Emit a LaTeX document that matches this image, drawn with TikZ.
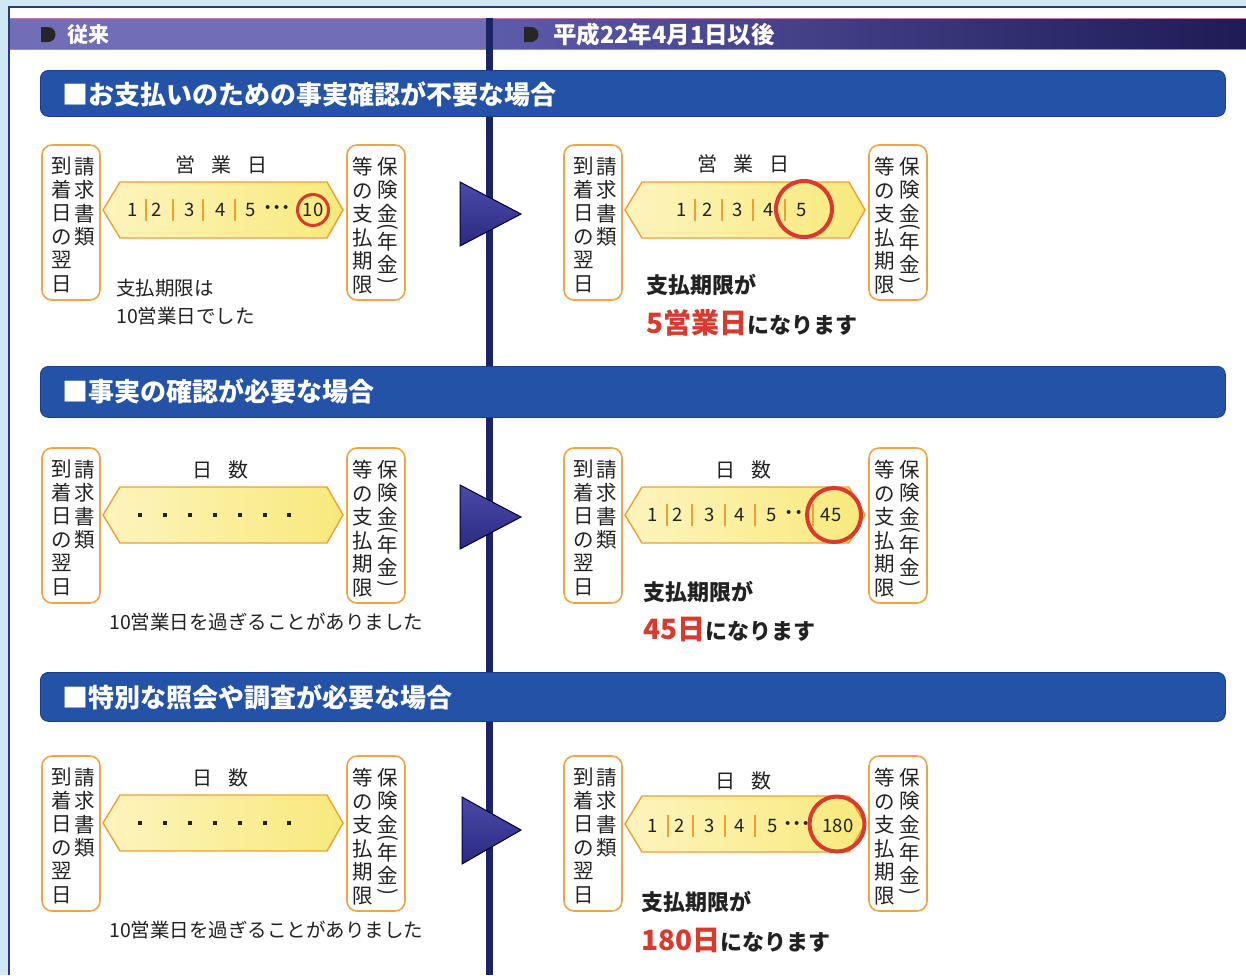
\documentclass[tikz,border=0pt]{standalone}
\usepackage{fontspec}
\setmainfont{Noto Sans CJK JP}
\usetikzlibrary{calc}
\definecolor{bgblue}{HTML}{D0E8F5}
\definecolor{framecol}{HTML}{2B3A80}
\definecolor{hdrL}{HTML}{706EB6}
\definecolor{hdrRa}{HTML}{5D5BAB}
\definecolor{hdrRb}{HTML}{1E1B56}
\definecolor{pinkline}{HTML}{C87898}
\definecolor{divcol}{HTML}{1C2466}
\definecolor{barcol}{HTML}{2452A6}
\definecolor{barline}{HTML}{1B3E8A}
\definecolor{boxor}{HTML}{F2A445}
\definecolor{hexor}{HTML}{F0A030}
\definecolor{hexa}{HTML}{FDF4BE}
\definecolor{hexb}{HTML}{F8E97C}
\definecolor{redc}{HTML}{D93A2E}
\definecolor{txt}{HTML}{222222}
\definecolor{tria}{HTML}{4B4AA8}
\definecolor{trib}{HTML}{2A2A82}
\tikzset{
  obox/.style={draw=boxor, line width=1.6pt, rounded corners=10pt, minimum width=58pt, minimum height=155pt, fill=white},
  vt/.style={align=center, text=txt, inner sep=0pt, font=\fontsize{20.5pt}{23.5pt}\selectfont},
  hexs/.style={draw=hexor, line width=1.4pt, left color=hexa, right color=hexb},
  num/.style={text=txt, inner sep=0pt, font=\fontsize{18.5pt}{20pt}\selectfont},
  dots/.style={text=txt, inner sep=0pt, font=\fontsize{18.5pt}{20pt}\selectfont\bfseries},
  sepl/.style={draw=hexor, line width=1.2pt},
  ttl/.style={text=txt, inner sep=0pt, font=\fontsize{20pt}{22pt}\selectfont},
  bartext/.style={text=white, inner sep=0pt, anchor=west, font=\fontsize{26pt}{28pt}\selectfont\bfseries},
  bar/.style={fill=barcol, draw=barline, line width=0.8pt, rounded corners=8pt, anchor=north west, minimum width=1185pt, inner sep=0pt},
  hdrtext/.style={text=white, inner sep=0pt, anchor=west, font=\fontsize{21pt}{22pt}\selectfont\bfseries},
  rcirc/.style={circle, draw=redc, line width=4pt, inner sep=0pt},
  tri/.style={draw=black!80!blue, line width=1pt, top color=tria, bottom color=trib},
  note/.style={text=txt, inner sep=0pt, anchor=west, font=\fontsize{19.5pt}{22pt}\selectfont},
  bnote/.style={text=txt, inner sep=0pt, anchor=west, font=\fontsize{22pt}{24pt}\selectfont\bfseries},
}
\newcommand\vlp{\raisebox{2pt}{\rotatebox{-90}{(}}}
\newcommand\vrp{\raisebox{2pt}{\rotatebox{-90}{)}}}
% boxes pair: #1 name prefix, #2 x offset, #3 y offset
\newcommand\mkboxes[3]{%
  \node[obox] (#1L) at ({71+#2},{222.5+#3}) {};
  \node[vt, anchor=north] (#1La) at ({85+#2},{157+#3}) {請\\求\\書\\類};
  \node[vt, anchor=north] (#1Lb) at ({62+#2},{157+#3}) {到\\着\\日\\の\\翌\\日};
  \node[obox] (#1R) at ({376+#2},{222.5+#3}) {};
  \node[vt, anchor=north] (#1Ra) at ({388+#2},{157+#3}) {保\\険\\金\\[-19pt]\vlp\\年\\金\\[-17pt]\vrp};
  \node[vt, anchor=north] (#1Rb) at ({363+#2},{157+#3}) {等\\の\\支\\払\\期\\限};
}
\newcommand\mkhex[3]{% #1 name, #2 x offset, #3 y center
  \shadedraw[hexs] ({103+#2},#3) -- ({120+#2},{#3-28}) -- ({327+#2},{#3-28}) -- ({343+#2},#3) -- ({327+#2},{#3+28}) -- ({120+#2},{#3+28}) -- cycle;
  \coordinate (#1) at ({223+#2},#3);
}
\begin{document}
\begin{tikzpicture}[x=1pt,y=-1pt]
\useasboundingbox (0,0) rectangle (1246,975);
\fill[bgblue] (0,0) rectangle (1246,975);
\fill[white] (9,7) rectangle (1246,975);
\draw[framecol, line width=2pt] (9,975) -- (9,7) -- (1246,7);
% header band
\fill[hdrL] (10,18) rectangle (488,49);
\shade[left color=hdrRa, right color=hdrRb] (488,18) rectangle (1246,49);
\draw[pinkline, line width=0.7pt] (10,18) -- (1246,18);
\draw[pinkline, line width=0.7pt] (10,49) -- (1246,49);
% divider
\fill[divcol] (486,18) rectangle (493,975);
% bullets
\fill[black!85] (41,27) -- (48,27) arc(-90:90:7.5) -- (41,42) -- cycle;
\fill[black!85] (524,27) -- (531,27) arc(-90:90:7.5) -- (524,42) -- cycle;
\node[hdrtext] (hL) at (67,35) {従来};
\node[hdrtext, font=\fontsize{23.5pt}{24pt}\selectfont\bfseries] (hR) at (553,35) {平成22年4月1日以後};
% section bars
\node[bar, minimum height=46pt] (bar1) at (40,70) {};
\node[bartext] (bar1t) at (62,94) {■お支払いのための事実確認が不要な場合};
\node[bar, minimum height=51pt] (bar2) at (40,366) {};
\node[bartext] (bar2t) at (62,391) {■事実の確認が必要な場合};
\node[bar, minimum height=49pt] (bar3) at (40,672) {};
\node[bartext] (bar3t) at (62,697) {■特別な照会や調査が必要な場合};

% ===== Row 1 =====
\mkboxes{a}{0}{0}
\mkboxes{b}{522}{0}
\node[ttl] (at) at (221,165) {営\hspace{16pt}業\hspace{16pt}日};
\node[ttl] (bt) at (743,164) {営\hspace{16pt}業\hspace{16pt}日};
\mkhex{ah}{0}{210}
\mkhex{bh}{522}{210}
% left numbers
\node[num] (a1) at (133,210) {1};
\node[num] (a2) at (157,210) {2};
\node[num] (a3) at (190,210) {3};
\node[num] (a4) at (221,210) {4};
\node[num] (a5) at (251,210) {5};
\node[dots] (ad) at (277,210) {･･･};
\node[num] (a10) at (313,210) {10};
\foreach \x in {146,173,203,235} \draw[sepl] (\x,199) -- (\x,221);
\node[circle, draw=redc, line width=3pt, minimum size=31pt, inner sep=0pt] (ac) at (313,210) {};
% right numbers
\node[num] (b1) at (682,210) {1};
\node[num] (b2) at (708,210) {2};
\node[num] (b3) at (738,210) {3};
\node[num] (b4) at (769,210) {4};
\node[num] (b5) at (802,210) {5};
\foreach \x in {695,722,753,785} \draw[sepl] (\x,199) -- (\x,221);
\node[rcirc, minimum size=56pt] (bc) at (804,209) {};
% texts
\node[note] (an1) at (116,288) {支払期限は};
\node[note] (an2) at (116,316) {10営業日でした};
\node[bnote] (bn1) at (646,285) {支払期限が};
\node[bnote] (bn2) at (646,323) {{\color{redc}\fontsize{28pt}{30pt}\selectfont 5営業日}になります};
% arrow
\shadedraw[tri] (460,182) -- (521,214) -- (460,246) -- cycle;

% ===== Row 2 =====
\mkboxes{c}{0}{303}
\mkboxes{d}{522}{303}
\node[ttl] (ct) at (220,470) {日\hspace{16pt}数};
\node[ttl] (dt) at (743,470) {日\hspace{16pt}数};
\mkhex{ch}{0}{515}
\mkhex{dh}{522}{515}
\foreach \x [count=\i] in {140,165,190,215,240,265,289} \fill[txt] (\x-2,513) rectangle (\x+2,517);
\node[num] (d1) at (653,515) {1};
\node[num] (d2) at (678,515) {2};
\node[num] (d3) at (710,515) {3};
\node[num] (d4) at (740,515) {4};
\node[num] (d5) at (772,515) {5};
\node[dots] (dd) at (794,515) {･･};
\node[num] (d45) at (831,515) {45};
\foreach \x in {667,692,725,755,813} \draw[sepl] (\x,504) -- (\x,526);
\node[rcirc, minimum size=54pt] (dc) at (834,515) {};
\node[note] (cn1) at (109,622) {10営業日を過ぎることがありました};
\node[bnote] (dn1) at (643,592) {支払期限が};
\node[bnote] (dn2) at (643,629) {{\color{redc}\fontsize{28pt}{30pt}\selectfont 45日}になります};
\shadedraw[tri] (460,485) -- (521,517) -- (460,549) -- cycle;

% ===== Row 3 =====
\mkboxes{e}{0}{611}
\mkboxes{f}{522}{611}
\node[ttl] (et) at (220,778) {日\hspace{16pt}数};
\node[ttl] (ft) at (743,781) {日\hspace{16pt}数};
\mkhex{eh}{0}{823}
\mkhex{fh}{522}{824}
\foreach \x [count=\i] in {140,165,190,215,240,265,289} \fill[txt] (\x-2,821) rectangle (\x+2,825);
\node[num] (f1) at (653,826) {1};
\node[num] (f2) at (680,826) {2};
\node[num] (f3) at (710,826) {3};
\node[num] (f4) at (740,826) {4};
\node[num] (f5) at (773,826) {5};
\node[dots] (fd) at (797,826) {･･･};
\node[num] (f180) at (838,826) {180};
\foreach \x in {668,693,725,755} \draw[sepl] (\x,815) -- (\x,837);
\node[rcirc, minimum size=55pt] (fc) at (837,824) {};
\node[note] (en1) at (109,930) {10営業日を過ぎることがありました};
\node[bnote] (fn1) at (641,902) {支払期限が};
\node[bnote] (fn2) at (641,940) {{\color{redc}\fontsize{28pt}{30pt}\selectfont 180日}になります};
\shadedraw[tri] (462,797) -- (521,830) -- (462,864) -- cycle;
\end{tikzpicture}
\end{document}
